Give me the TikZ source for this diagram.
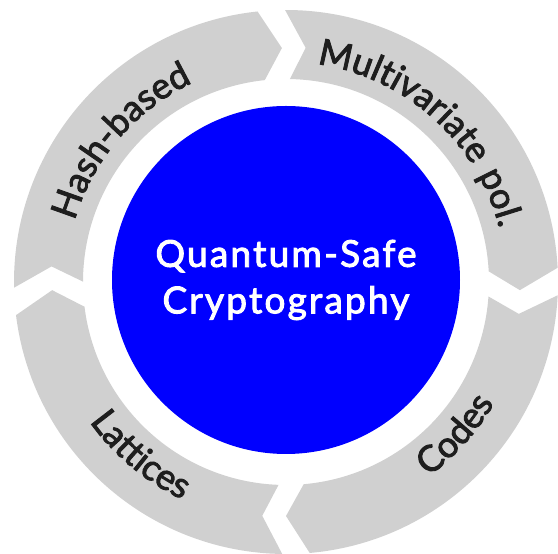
\documentclass[tikz,border=0pt]{standalone}
\usepackage{fontspec}
\setmainfont{Lato}
\newfontfamily\ringfont[FakeBold=2.5, LetterSpace=6]{Lato}
\newfontfamily\corefont[FakeBold=2.5, LetterSpace=6]{Lato}
\usetikzlibrary{decorations.text}
\definecolor{ringgray}{RGB}{208,208,208}
\definecolor{labelink}{RGB}{30,30,30}
\newcommand\labelfont{\ringfont\fontsize{36}{43}\selectfont\color{labelink}}
% ring segment from start-gap tip angle #1 to end-gap tip angle #2 (clockwise)
\newcommand\ringseg[2]{%
  \fill[ringgray] (#1-0.8:272pt) -- (#1-5.8:235pt) -- (#1-2.1:203pt)
    arc[start angle=#1-2.1, end angle=#2+5, radius=203pt]
    -- (#2:234pt) -- (#2+5:272pt)
    arc[start angle=#2+5, end angle=#1-0.8, radius=272pt] -- cycle;}
% label on the upper half (clockwise, tops outward)
\newcommand\toplabel[2]{%
  \path[decorate, decoration={text along path, text align=center,
    text={|\labelfont|#2}}]
    (#1+80:220pt) arc[start angle=#1+80, end angle=#1-80, radius=220pt];}
% label on the lower half (counter-clockwise, tops inward)
\newcommand\bottomlabel[2]{%
  \path[decorate, decoration={text along path, text align=center,
    text={|\labelfont|#2}}]
    (#1-80:241pt) arc[start angle=#1-80, end angle=#1+80, radius=241pt];}
\begin{document}
\begin{tikzpicture}
\useasboundingbox (0pt,0pt) rectangle (558pt,554pt);
\begin{scope}[shift={(286pt,272pt)}]
  \ringseg{182}{91}
  \ringseg{91}{-2}
  \ringseg{-2}{-90}
  \ringseg{-90}{-178}
  \toplabel{139.5}{Hash-based}
  \toplabel{48}{Multivariate pol.}
  \bottomlabel{-42}{Codes}
  \bottomlabel{-130}{Lattices}
  \node[circle, fill=blue, minimum size=348pt, inner sep=0pt, text=white,
    align=center, font=\corefont\fontsize{37}{46.5}\selectfont] (qsc) at (0pt,2pt)
    {Quantum-Safe\\Cryptography};
\end{scope}
\end{tikzpicture}
\end{document}
